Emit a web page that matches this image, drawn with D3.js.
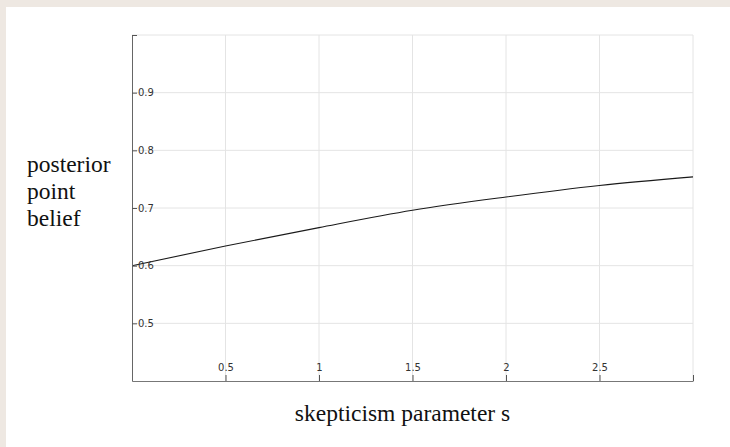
<!DOCTYPE html>
<html>
<head>
<meta charset="utf-8">
<script src="https://cdn.jsdelivr.net/npm/d3@7"></script>
<style>
  html, body { margin: 0; padding: 0; background: #eee8e2; }
  .chart { position: absolute; left: 6px; top: 7px; width: 724px; height: 440px; background: #fff; }
  .tick text { font-family: "DejaVu Sans", sans-serif; font-size: 10px; fill: #333; }
  .label { font-family: "Liberation Serif", "Times New Roman", serif; font-size: 23.5px; fill: #111; }
</style>
</head>
<body>
<div class="chart"></div>
<script>
// Data
const sValues = [0, 0.5, 1, 1.5, 2, 2.5, 3];
const beliefValues = [0.600, 0.634, 0.666, 0.696, 0.719, 0.739, 0.754];
const xTicks = [0.5, 1, 1.5, 2, 2.5, 3];
const yTicks = [0.5, 0.6, 0.7, 0.8, 0.9, 1.0];
const yLabelLines = ['posterior', 'point', 'belief'];
const xLabel = 'skepticism parameter s';

// Chart dimensions (svg sits at page offset 6,7)
const width = 724, height = 440;
const margin = { top: 28, right: 37, bottom: 66, left: 126 };

const svg = d3.select('.chart').append('svg')
    .attr('width', width)
    .attr('height', height);

// Scales
const xScale = d3.scaleLinear().domain([0, 3]).range([margin.left, width - margin.right]);
const yScale = d3.scaleLinear().domain([0.4, 1.0]).range([height - margin.bottom, margin.top]);

// Grid lines
svg.append('g').selectAll('line.vgrid')
    .data(xTicks)
    .join('line')
    .attr('x1', d => xScale(d)).attr('x2', d => xScale(d))
    .attr('y1', yScale(0.4)).attr('y2', yScale(1.0))
    .attr('stroke', '#e4e4e4').attr('stroke-width', 1);

svg.append('g').selectAll('line.hgrid')
    .data(yTicks)
    .join('line')
    .attr('x1', xScale(0)).attr('x2', xScale(3))
    .attr('y1', d => yScale(d)).attr('y2', d => yScale(d))
    .attr('stroke', '#e4e4e4').attr('stroke-width', 1);

// Curve
const lineGenerator = d3.line()
    .x((d, i) => xScale(sValues[i]))
    .y(d => yScale(d))
    .curve(d3.curveMonotoneX);

svg.append('path')
    .datum(beliefValues)
    .attr('d', lineGenerator)
    .attr('fill', 'none')
    .attr('stroke', '#1a1a1a')
    .attr('stroke-width', 1.1);

// X axis: ticks point up, labels sit above the axis line
const xAxis = svg.append('g')
    .attr('transform', `translate(0,${yScale(0.4)})`)
    .call(d3.axisBottom(xScale).tickValues(xTicks).tickSize(-6).tickSizeOuter(0)
        .tickFormat(d => d === 3 ? '' : d3.format('')(d)));
xAxis.select('.domain').attr('stroke', '#777');
xAxis.selectAll('.tick line').attr('stroke', '#555');
xAxis.selectAll('.tick text').attr('y', -10).attr('dy', 0);

// Y axis: ticks point right, labels inside the plot
const yAxis = svg.append('g')
    .attr('transform', `translate(${xScale(0)},0)`)
    .call(d3.axisRight(yScale).tickValues(yTicks).tickSize(5).tickSizeOuter(0)
        .tickFormat(d => d === 1.0 ? '' : d3.format('.1f')(d)));
yAxis.select('.domain').attr('stroke', '#666');
yAxis.selectAll('.tick line').attr('stroke', '#555');
yAxis.selectAll('.tick text').attr('x', 6);

// Axis labels
svg.append('text').attr('class', 'label')
    .attr('x', 21).attr('y', 165)
    .selectAll('tspan')
    .data(yLabelLines)
    .join('tspan')
    .attr('x', 21)
    .attr('dy', (d, i) => i === 0 ? 0 : 27)
    .text(d => d);

svg.append('text').attr('class', 'label')
    .attr('x', (xScale(0) + xScale(3)) / 2 - 10).attr('y', 414)
    .attr('text-anchor', 'middle')
    .text(xLabel);
</script>
</body>
</html>
